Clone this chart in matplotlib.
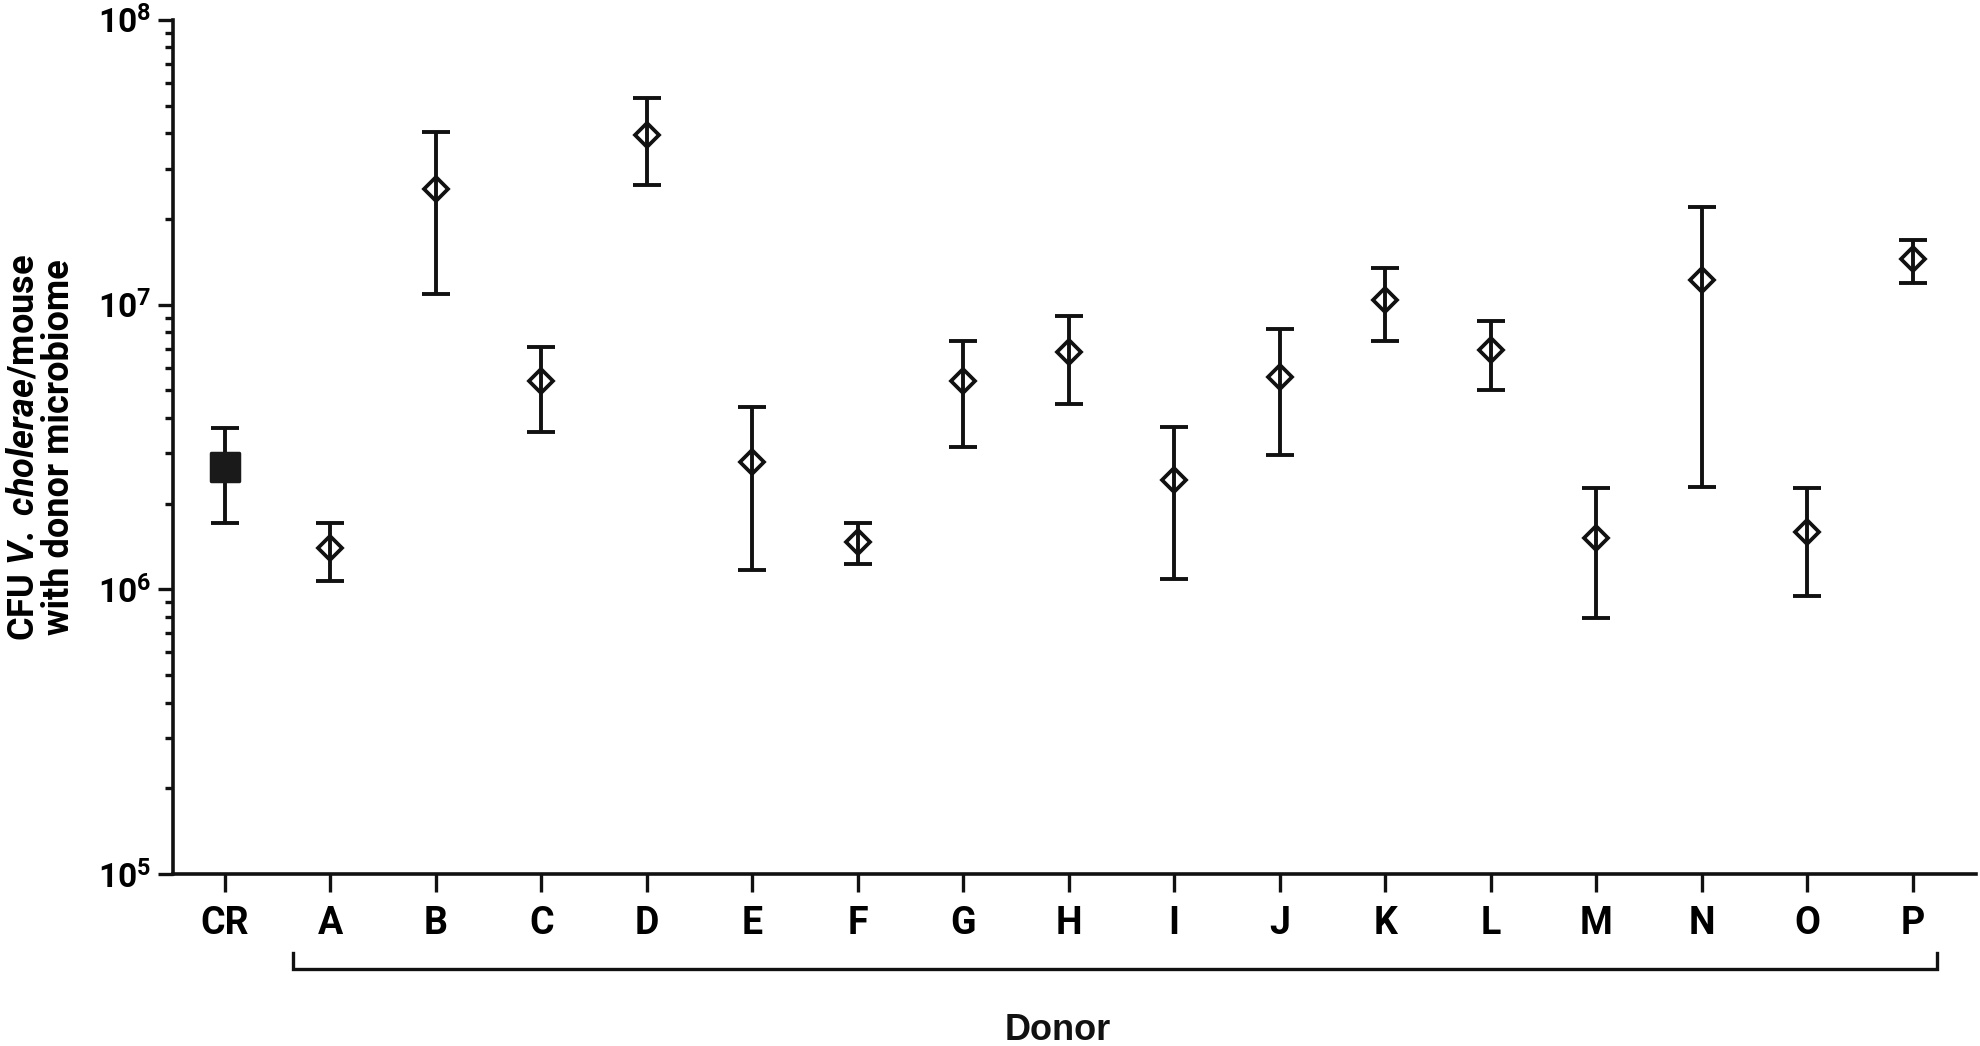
import numpy as np
import matplotlib
matplotlib.use("Agg")
import matplotlib.pyplot as plt
from matplotlib.markers import MarkerStyle
from matplotlib.transforms import blended_transform_factory

# values (CFU per mouse, log axis)
donors = ['CR', 'A', 'B', 'C', 'D', 'E', 'F', 'G', 'H', 'I', 'J', 'K', 'L', 'M', 'N', 'O', 'P']
cfu = [2.68e6, 1.40e6, 2.54e7, 5.38e6, 3.95e7, 2.80e6, 1.47e6, 5.38e6, 6.8e6,
       2.42e6, 5.55e6, 1.04e7, 6.95e6, 1.51e6, 1.22e7, 1.59e6, 1.45e7]
upper = [3.68e6, 1.71e6, 4.03e7, 7.08e6, 5.3e7, 4.38e6, 1.71e6, 7.46e6, 9.15e6,
         3.72e6, 8.18e6, 1.34e7, 8.79e6, 2.26e6, 2.20e7, 2.26e6, 1.69e7]
lower = [1.71e6, 1.07e6, 1.09e7, 3.57e6, 2.62e7, 1.17e6, 1.23e6, 3.16e6, 4.48e6,
         1.09e6, 2.97e6, 7.46e6, 5.01e6, 7.96e5, 2.28e6, 9.46e5, 1.19e7]
ytick_vals = [1e5, 1e6, 1e7, 1e8]
ytick_labels = [r'$\mathbf{10^{5}}$', r'$\mathbf{10^{6}}$', r'$\mathbf{10^{7}}$', r'$\mathbf{10^{8}}$']

plt.rcParams['font.family'] = ['Roboto', 'Liberation Sans', 'DejaVu Sans']
plt.rcParams['mathtext.fontset'] = 'custom'
plt.rcParams['mathtext.bf'] = 'Roboto:bold'
plt.rcParams['mathtext.rm'] = 'Roboto:bold'
plt.rcParams['mathtext.it'] = 'Roboto:italic:bold'

ink = '#111111'
fig = plt.figure(figsize=(19.8, 10.46), dpi=100)
ax = fig.add_axes([0.0874, 0.1644, 0.9106, 0.8166])

x = np.arange(len(donors))
cfu = np.array(cfu)
err = np.array([cfu - np.array(lower), np.array(upper) - cfu])

# control (CR): filled square
ax.errorbar(x[:1], cfu[:1], yerr=err[:, :1], fmt='none', ecolor=ink,
            elinewidth=2.8, capsize=10, capthick=2.8, zorder=2)
ax.plot(x[:1], cfu[:1], linestyle='none',
        marker=MarkerStyle('s', joinstyle='round'), markersize=20,
        mfc='#1a1a1a', mec='#1a1a1a', mew=2.5, zorder=3)

# donor microbiomes: open diamonds
ax.errorbar(x[1:], cfu[1:], yerr=err[:, 1:], fmt='none', ecolor=ink,
            elinewidth=2.8, capsize=10, capthick=2.8, zorder=2)
ax.plot(x[1:], cfu[1:], linestyle='none', marker='D', markersize=12,
        mfc='none', mec=ink, mew=2.7, zorder=3)

ax.set_yscale('log')
ax.set_ylim(1e5, 1e8)
ax.set_xlim(-0.49, 16.6)
ax.set_yticks(ytick_vals)
ax.set_yticklabels(ytick_labels, fontsize=24)
ax.set_xticks(x)
ax.set_xticklabels(donors, fontsize=27, fontweight='bold')

for s in ['top', 'right']:
    ax.spines[s].set_visible(False)
for s in ['left', 'bottom']:
    ax.spines[s].set_linewidth(2.6)
    ax.spines[s].set_color(ink)

ax.tick_params(axis='y', which='major', length=11, width=2.4, color=ink, pad=5)
ax.tick_params(axis='y', which='minor', length=6, width=2.4, color=ink)
ax.tick_params(axis='x', which='major', length=13, width=2.4, color=ink, pad=9)

ax.set_ylabel('CFU $\\mathit{V.\\ cholerae}$/mouse\nwith donor microbiome',
              fontsize=26, fontweight='bold', linespacing=1.0)
ax.yaxis.set_label_coords(-0.053, 0.5)

# bracket under donors A-P
tr = blended_transform_factory(ax.transData, ax.transAxes)
ax.plot([0.646, 0.646, 16.23, 16.23], [-0.0925, -0.111, -0.111, -0.0925],
        transform=tr, color=ink, lw=2.4, clip_on=False, solid_joinstyle='miter')

fig.text(0.534, 0.006, 'Donor', fontsize=26, fontweight='bold',
         family=['Liberation Sans', 'DejaVu Sans'],
         ha='center', va='baseline', color=ink)

fig.savefig('out.png', dpi=100)
